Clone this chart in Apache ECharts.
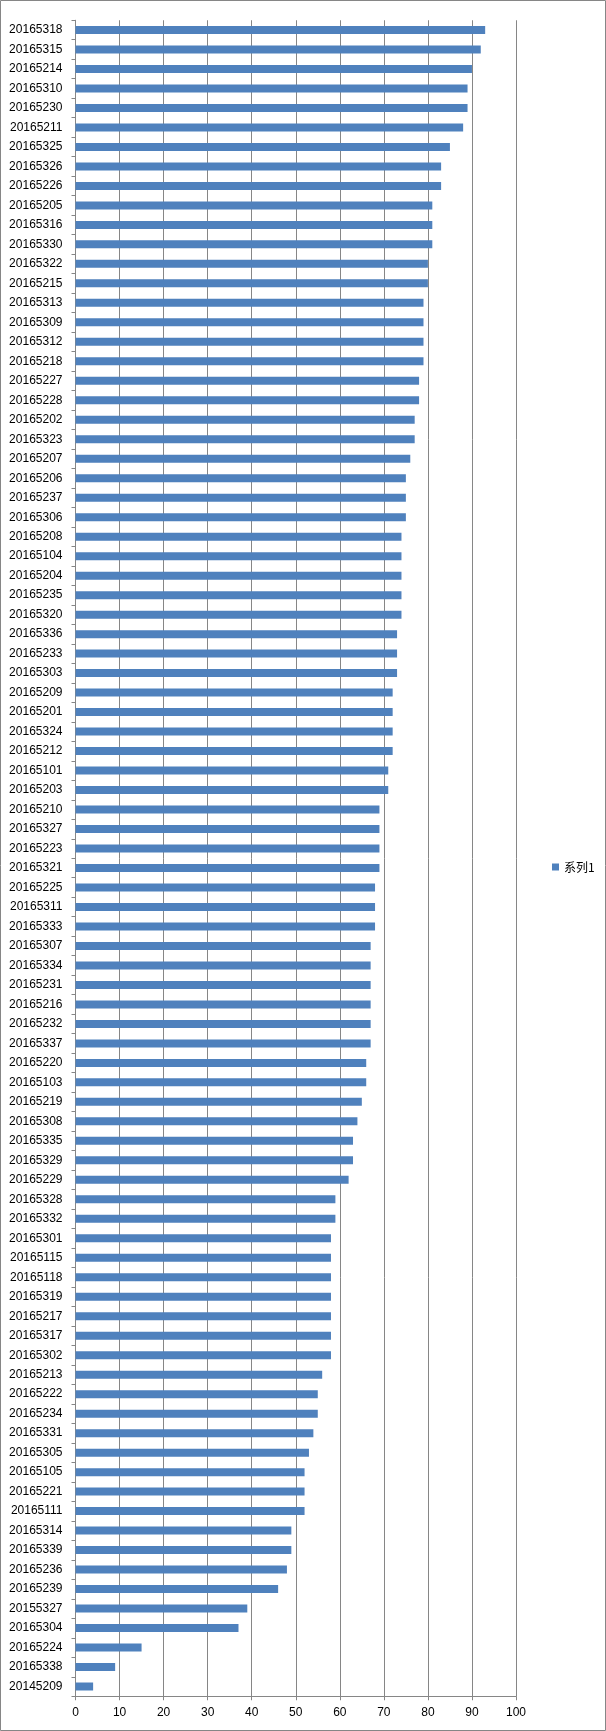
<!DOCTYPE html>
<html>
<head>
<meta charset="utf-8">
<script src="https://cdn.jsdelivr.net/npm/echarts@6/dist/echarts.min.js"></script>
<style>
  html, body { margin: 0; padding: 0; background: #fff; }
  #main { width: 606px; height: 1731px; }
</style>
</head>
<body>
<div id="main"></div>
<script>
var categories = [
  '20165318', '20165315', '20165214', '20165310', '20165230', '20165211',
  '20165325', '20165326', '20165226', '20165205', '20165316', '20165330',
  '20165322', '20165215', '20165313', '20165309', '20165312', '20165218',
  '20165227', '20165228', '20165202', '20165323', '20165207', '20165206',
  '20165237', '20165306', '20165208', '20165104', '20165204', '20165235',
  '20165320', '20165336', '20165233', '20165303', '20165209', '20165201',
  '20165324', '20165212', '20165101', '20165203', '20165210', '20165327',
  '20165223', '20165321', '20165225', '20165311', '20165333', '20165307',
  '20165334', '20165231', '20165216', '20165232', '20165337', '20165220',
  '20165103', '20165219', '20165308', '20165335', '20165329', '20165229',
  '20165328', '20165332', '20165301', '20165115', '20165118', '20165319',
  '20165217', '20165317', '20165302', '20165213', '20165222', '20165234',
  '20165331', '20165305', '20165105', '20165221', '20165111', '20165314',
  '20165339', '20165236', '20165239', '20155327', '20165304', '20165224',
  '20165338', '20145209'
];

var values = [
  93, 92, 90, 89, 89, 88,
  85, 83, 83, 81, 81, 81,
  80, 80, 79, 79, 79, 79,
  78, 78, 77, 77, 76, 75,
  75, 75, 74, 74, 74, 74,
  74, 73, 73, 73, 72, 72,
  72, 72, 71, 71, 69, 69,
  69, 69, 68, 68, 68, 67,
  67, 67, 67, 67, 67, 66,
  66, 65, 64, 63, 63, 62,
  59, 59, 58, 58, 58, 58,
  58, 58, 58, 56, 55, 55,
  54, 53, 52, 52, 52, 49,
  49, 48, 46, 39, 37, 15,
  9, 4
];

var seriesName = '系列1';
var xTicks = { min: 0, max: 100, interval: 10 };

var gray = '#868686';
var font = 'Liberation Sans, Arial, sans-serif';

var myChart = echarts.init(document.getElementById('main'));

var option = {
  animation: false,
  backgroundColor: '#fff',
  graphic: [{
    type: 'rect',
    shape: { x: 0.5, y: 0.5, width: 605, height: 1730 },
    style: { fill: 'none', stroke: gray, lineWidth: 1 }
  }],
  legend: {
    orient: 'vertical',
    left: 547,
    top: 856,
    itemWidth: 7,
    itemHeight: 7,
    icon: 'rect',
    textStyle: { fontFamily: 'Noto Sans CJK SC', fontSize: 12, color: '#000' },
    data: [seriesName]
  },
  grid: {
    left: 75.5,
    top: 20.25,
    width: 440.5,
    height: 1676
  },
  xAxis: {
    type: 'value',
    min: xTicks.min,
    max: xTicks.max,
    interval: xTicks.interval,
    axisLine: { show: true, lineStyle: { color: gray, width: 1 } },
    axisTick: { show: true, length: 4, lineStyle: { color: gray } },
    axisLabel: { color: '#000', fontFamily: font, fontSize: 12, margin: 10 },
    splitLine: { show: true, lineStyle: { color: gray, width: 1 } }
  },
  yAxis: {
    type: 'category',
    inverse: true,
    data: categories,
    axisLine: { show: true, lineStyle: { color: gray, width: 1 } },
    axisTick: { show: true, length: 4, lineStyle: { color: gray } },
    axisLabel: { color: '#000', fontFamily: font, fontSize: 12, margin: 13, interval: 0 },
    splitLine: { show: false }
  },
  series: [{
    name: seriesName,
    type: 'bar',
    data: values,
    barWidth: 8,
    itemStyle: { color: '#4F81BD' }
  }]
};

option && myChart.setOption(option);
</script>
</body>
</html>
